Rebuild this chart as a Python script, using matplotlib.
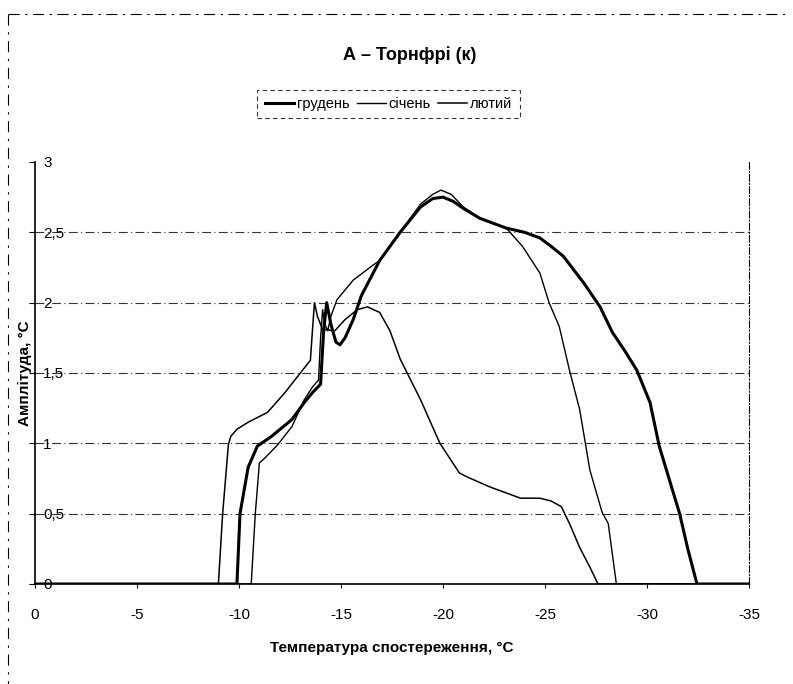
import matplotlib
matplotlib.use("Agg")
import matplotlib.pyplot as plt
from matplotlib.lines import Line2D
from matplotlib.ticker import FuncFormatter

plt.rcParams["font.family"] = ["Liberation Sans Narrow", "Liberation Sans", "DejaVu Sans"]

# грудень (thick)
dec_x = [0, -9.9, -10.05, -10.45, -10.9, -11.6, -12.6, -13.2, -13.6, -14.0, -14.15, -14.3,
         -14.5, -14.75, -14.95, -15.2, -15.6, -16.0, -16.9, -17.9, -18.9, -19.5, -20.0,
         -20.5, -21.0, -21.8, -23.1, -24.0, -24.75, -25.3, -25.9, -26.9, -27.7, -28.3,
         -28.9, -29.5, -30.15, -30.6, -31.1, -31.6, -32.0, -32.45, -35]
dec_y = [0, 0, 0.5, 0.83, 0.98, 1.05, 1.17, 1.29, 1.36, 1.42, 1.8, 2.0,
         1.85, 1.72, 1.70, 1.75, 1.88, 2.05, 2.3, 2.5, 2.68, 2.74, 2.75,
         2.72, 2.67, 2.6, 2.53, 2.5, 2.46, 2.4, 2.33, 2.14, 1.97, 1.79,
         1.66, 1.52, 1.29, 0.98, 0.74, 0.5, 0.25, 0, 0]

# січень
jan_x = [0, -10.6, -10.8, -11.0, -11.3, -11.9, -12.6, -13.2, -13.6, -13.9, -14.0, -14.1,
         -14.2, -14.35, -14.5, -14.8, -15.6, -16.6, -16.9, -17.9, -18.9, -19.5, -19.9,
         -20.4, -21.0, -21.8, -23.1, -23.9, -24.75, -25.2, -25.7, -26.2, -26.7, -27.2,
         -27.8, -28.1, -28.5, -35]
jan_y = [0, 0, 0.5, 0.86, 0.9, 0.99, 1.12, 1.31, 1.4, 1.45, 1.75, 1.95,
         1.85, 1.8, 1.9, 2.02, 2.16, 2.27, 2.3, 2.5, 2.7, 2.77, 2.8,
         2.77, 2.68, 2.6, 2.53, 2.4, 2.21, 2.0, 1.83, 1.52, 1.24, 0.81,
         0.51, 0.43, 0, 0]

# лютий
feb_x = [0, -8.99, -9.2, -9.48, -9.6, -9.9, -10.45, -11.4, -12.25, -12.9, -13.5, -13.6,
         -13.7, -13.85, -14.1, -14.7, -15.2, -15.8, -16.3, -16.9, -17.4, -17.9, -18.9,
         -19.85, -20.8, -21.2, -22.3, -23.8, -24.75, -25.3, -25.8, -26.2, -26.7, -27.2,
         -27.6, -35]
feb_y = [0, 0, 0.5, 0.99, 1.05, 1.1, 1.15, 1.22, 1.36, 1.48, 1.59, 1.8,
         2.0, 1.9, 1.81, 1.8, 1.88, 1.95, 1.97, 1.93, 1.8, 1.6, 1.31,
         1.0, 0.79, 0.76, 0.69, 0.61, 0.61, 0.59, 0.55, 0.43, 0.26, 0.12,
         0, 0]

series_labels = ["грудень", "січень", "лютий"]
x_ticks = [0, -5, -10, -15, -20, -25, -30, -35]
y_ticks = [0, 0.5, 1, 1.5, 2, 2.5, 3]

fig = plt.figure(figsize=(7.93, 6.84), dpi=100)
ax = fig.add_axes([0.0441, 0.1462, 0.9004, 0.617])

ax.plot(dec_x, dec_y, color="black", lw=2.2, label=series_labels[0], zorder=4)
ax.plot(jan_x, jan_y, color="black", lw=1.0, label=series_labels[1], zorder=3)
ax.plot(feb_x, feb_y, color="black", lw=1.1, label=series_labels[2], zorder=3)

ax.set_xlim(0, -35)
ax.set_ylim(0, 3)
ax.set_xticks(x_ticks)
ax.set_yticks(y_ticks)
ax.xaxis.set_major_formatter(FuncFormatter(lambda v, p: f"{v:g}"))
ax.yaxis.set_major_formatter(FuncFormatter(lambda v, p: f"{v:g}".replace(".", ",")))

for yv in y_ticks[1:-1]:
    ax.axhline(yv, color="#333333", lw=0.8, ls=(0, (8, 3, 1, 3)), zorder=1)

ax.spines["top"].set_visible(False)
ax.spines["right"].set_linestyle((0, (6, 2, 1, 2)))
ax.spines["right"].set_linewidth(0.8)
ax.spines["left"].set_linewidth(1.2)
ax.spines["bottom"].set_linewidth(1.2)

ax.tick_params(axis="x", direction="out", length=3, pad=14, labelsize=11)
ax.tick_params(axis="y", direction="out", length=4, pad=-10, labelsize=11)
for lab in ax.get_yticklabels():
    lab.set_horizontalalignment("left")

ax.set_xlabel("Температура спостереження, °С", fontsize=11, fontweight="bold", labelpad=14)
ax.set_ylabel("Амплітуда, °С", fontsize=11, fontweight="bold", labelpad=-2)

fig.text(0.517, 0.92, "А – Торнфрі (к)", ha="center", va="center",
         fontsize=13, fontweight="bold")

handles = [Line2D([], [], color="black", lw=2.2),
           Line2D([], [], color="black", lw=1.0),
           Line2D([], [], color="black", lw=1.1)]
leg = fig.legend(handles, series_labels, loc="center", bbox_to_anchor=(0.49, 0.848),
                 ncol=3, fontsize=10.5, handlelength=2.0, handletextpad=0.2,
                 columnspacing=0.5, fancybox=False, borderpad=0.5)
leg.get_frame().set_edgecolor("black")
leg.get_frame().set_linestyle((0, (4, 3)))
leg.get_frame().set_linewidth(0.8)

# outer chart border (scanned)
fig.add_artist(Line2D([0.01, 0.995], [0.98, 0.98], transform=fig.transFigure,
                      color="black", lw=0.8, ls=(0, (10, 5, 2, 5))))
fig.add_artist(Line2D([0.01, 0.01], [0.98, 0.0], transform=fig.transFigure,
                      color="black", lw=0.8, ls=(0, (10, 6, 2, 6))))

fig.savefig("out.png", dpi=100)
